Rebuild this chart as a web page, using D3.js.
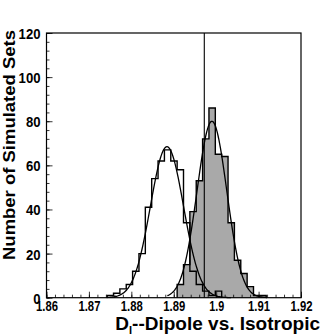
<!DOCTYPE html>
<html>
<head>
<meta charset="utf-8">
<script src="https://cdn.jsdelivr.net/npm/d3@7"></script>
<style>
  html, body { margin: 0; padding: 0; background: #fff; }
  svg text { font-family: "Liberation Sans", Arial, sans-serif; font-weight: bold; fill: #000; }
</style>
</head>
<body>
<div id="chart"></div>
<script>
  // histogram bins (width 0.0015), counts
  var binWidth = 0.0015;
  var isoStart = 1.8743;
  var isoCounts = [1, 2, 4, 6, 12, 20, 41, 54, 62, 67, 62, 58, 34, 12, 6, 3, 1, 3];
  var dipStart = 1.8908;
  var dipCounts = [6, 15, 39, 53, 72, 86, 65, 64, 34, 17, 11, 5, 1, 1];

  // gaussian fits: [peak, mean, sigma, from, to]
  var isoFit = [68.5, 1.8884, 0.0039, 1.8742, 1.9035];
  var dipFit = [80, 1.8990, 0.0035, 1.8885, 1.9120];

  var observed = 1.8972;

  var xTicks = [1.86, 1.87, 1.88, 1.89, 1.9, 1.91, 1.92];
  var yTicks = [0, 20, 40, 60, 80, 100, 120];

  var width = 335, height = 335;
  var margin = {top: 33, right: 34, bottom: 37.3, left: 46.5};
  var plotW = width - margin.left - margin.right;
  var plotH = height - margin.top - margin.bottom;

  var svg = d3.select('#chart').append('svg')
    .attr('width', width)
    .attr('height', height);

  var g = svg.append('g')
    .attr('transform', 'translate(' + margin.left + ',' + margin.top + ')');

  var x = d3.scaleLinear().domain([1.86, 1.92]).range([0, plotW]);
  var y = d3.scaleLinear().domain([0, 120]).range([plotH, 0]);

  // step outline of a histogram
  function stepPoints(start, counts) {
    var pts = [[start, 0]];
    counts.forEach(function(c, i) {
      pts.push([start + i * binWidth, c]);
      pts.push([start + (i + 1) * binWidth, c]);
    });
    pts.push([start + counts.length * binWidth, 0]);
    return pts;
  }

  var line = d3.line()
    .x(function(d) { return x(d[0]); })
    .y(function(d) { return y(d[1]); });

  // filled dipole histogram
  g.append('path')
    .datum(stepPoints(dipStart, dipCounts))
    .attr('d', line)
    .attr('fill', '#a9a9a9')
    .attr('stroke', '#000')
    .attr('stroke-width', 1.4);

  // isotropic histogram, outline only
  g.append('path')
    .datum(stepPoints(isoStart, isoCounts))
    .attr('d', line)
    .attr('fill', 'none')
    .attr('stroke', '#000')
    .attr('stroke-width', 1.4);

  function fitPoints(f) {
    var n = 120, pts = [];
    for (var i = 0; i <= n; i++) {
      var v = f[3] + (f[4] - f[3]) * i / n;
      var z = (v - f[1]) / f[2];
      pts.push([v, f[0] * Math.exp(-0.5 * z * z)]);
    }
    return pts;
  }

  [isoFit, dipFit].forEach(function(f) {
    g.append('path')
      .datum(fitPoints(f))
      .attr('d', line.curve(d3.curveBasis))
      .attr('fill', 'none')
      .attr('stroke', '#000')
      .attr('stroke-width', 1.3);
  });

  // measured value
  g.append('line')
    .attr('x1', x(observed)).attr('x2', x(observed))
    .attr('y1', 0).attr('y2', plotH)
    .attr('stroke', '#000')
    .attr('stroke-width', 1.1);

  // minor + major ticks, pointing inward
  var xMinor = g.append('g').attr('transform', 'translate(0,' + plotH + ')')
    .call(d3.axisBottom(x).tickValues(d3.range(1.86, 1.9201, 0.002)).tickSize(-3).tickFormat(''));
  var xMajor = g.append('g').attr('transform', 'translate(0,' + plotH + ')')
    .call(d3.axisBottom(x).tickValues(xTicks).tickSize(-6).tickPadding(3)
      .tickFormat(function(d) { return d3.format('.2f')(d).replace(/0$/, ''); }));
  var yMinor = g.append('g')
    .call(d3.axisLeft(y).tickValues(d3.range(0, 121, 4)).tickSize(-3).tickFormat(''));
  var yMajor = g.append('g')
    .call(d3.axisLeft(y).tickValues(yTicks).tickSize(-6).tickPadding(6));

  [xMinor, xMajor, yMinor, yMajor].forEach(function(a) {
    a.select('.domain').remove();
    a.selectAll('line').attr('stroke', '#000').attr('stroke-width', 0.8);
  });

  xMajor.selectAll('text')
    .attr('font-size', 15)
    .attr('dy', null)
    .attr('y', 13)
    .attr('textLength', 22)
    .attr('lengthAdjust', 'spacingAndGlyphs');
  xMajor.selectAll('.tick').filter(function(d) { return d === 1.9; }).select('text')
    .attr('textLength', 15);

  yMajor.selectAll('text')
    .attr('font-size', 14)
    .attr('dy', null)
    .attr('y', 5.5)
    .attr('textLength', function(d) { return String(d).length * 7.3; })
    .attr('lengthAdjust', 'spacingAndGlyphs');

  // frame
  g.append('rect')
    .attr('width', plotW).attr('height', plotH)
    .attr('fill', 'none')
    .attr('stroke', '#000')
    .attr('stroke-width', 1.2);

  // axis titles
  var xt = svg.append('text')
    .attr('x', 320).attr('y', 329.5)
    .attr('text-anchor', 'end')
    .attr('font-size', 19);
  xt.append('tspan').text('D');
  xt.append('tspan').attr('font-size', 11).attr('dy', 4).text('I');
  xt.append('tspan').attr('dy', -4).text('--Dipole vs. Isotropic');

  svg.append('text')
    .attr('transform', 'translate(15,30) rotate(-90)')
    .attr('text-anchor', 'end')
    .attr('font-size', 17)
    .attr('textLength', 230)
    .attr('lengthAdjust', 'spacingAndGlyphs')
    .text('Number of Simulated Sets');
</script>
</body>
</html>
